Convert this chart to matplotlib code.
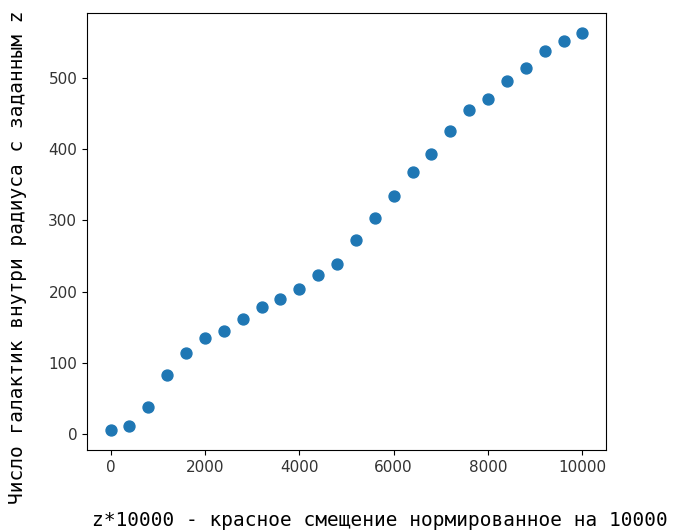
import matplotlib
matplotlib.use("Agg")
import matplotlib.pyplot as plt

# red shift * 10000 and number of galaxies inside that radius
z_scaled = [0, 400, 800, 1200, 1600, 2000, 2400, 2800, 3200, 3600, 4000, 4400, 4800,
            5200, 5600, 6000, 6400, 6800, 7200, 7600, 8000, 8400, 8800, 9200, 9600, 10000]
n_galaxies = [5, 11, 38, 82, 113, 134, 145, 162, 178, 190, 203, 223, 239,
              272, 303, 335, 368, 393, 426, 455, 471, 496, 515, 538, 553, 564]

fig = plt.figure(figsize=(6.73, 5.32), dpi=100)
ax = fig.add_axes([0.1293, 0.1541, 0.7711, 0.8215])

ax.scatter(z_scaled, n_galaxies, s=62, color='#1f77b4')

ax.tick_params(labelsize=11, labelcolor='#333333')
ax.set_xlabel("z*10000 - красное смещение нормированное на 10000",
              family='DejaVu Sans Mono', fontsize=14, va='center')
ax.set_ylabel("Число галактик внутри радиуса с заданным z",
              family='DejaVu Sans Mono', fontsize=14, va='center')
ax.xaxis.set_label_coords(0.565, -0.162)
ax.yaxis.set_label_coords(-0.133, 0.44)

fig.savefig("out.png", dpi=100)
